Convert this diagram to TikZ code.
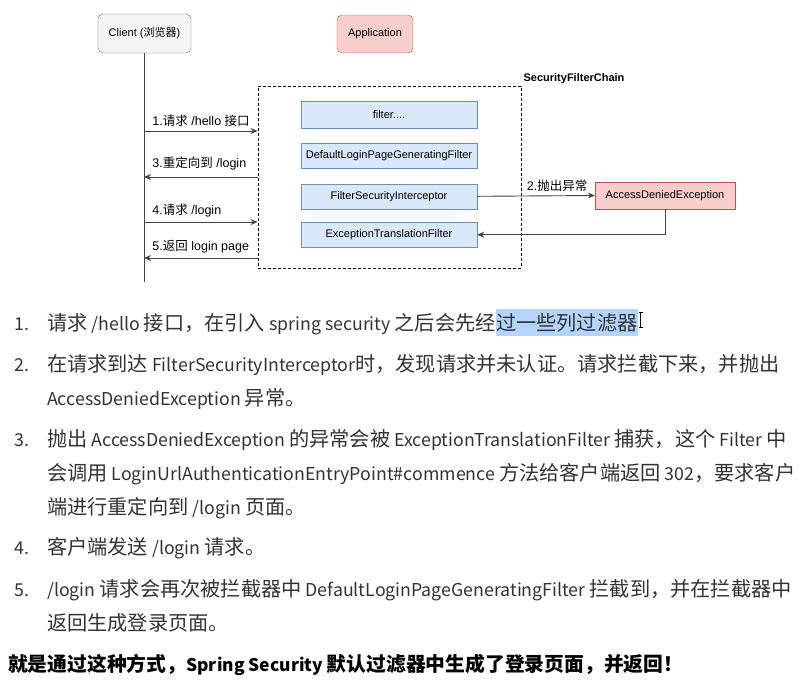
\documentclass[tikz,border=0pt]{standalone}
\usepackage{fontspec}
\setmainfont{Noto Sans CJK SC}
\newfontfamily\dgfont{Liberation Sans}
\newfontfamily\cjk{Noto Sans CJK SC}
\newfontfamily\lt{Noto Sans CJK SC}[Scale=0.879]
\newcommand{\lw}[1]{{\lt #1}}
\usetikzlibrary{arrows.meta, positioning}

\definecolor{clientfill}{HTML}{F5F5F5}
\definecolor{clientdraw}{HTML}{666666}
\definecolor{redfill}{HTML}{F8CECC}
\definecolor{reddraw}{HTML}{B85450}
\definecolor{bluefill}{HTML}{DAE8FC}
\definecolor{bluedraw}{HTML}{6C8EBF}
\definecolor{hilite}{HTML}{B3D4FC}
\definecolor{bodytext}{HTML}{333333}
\definecolor{linegray}{HTML}{444444}

\begin{document}
\begin{tikzpicture}[x=1pt, y=-1pt,
    actor/.style={draw=clientdraw, fill=clientfill, rounded corners=5pt, minimum width=93pt,
                  minimum height=39pt, font=\dgfont\fontsize{11}{13}\selectfont},
    app/.style={actor, draw=reddraw, fill=redfill, minimum width=76pt, minimum height=38pt},
    filterbox/.style={draw=bluedraw, fill=bluefill, minimum width=176pt, minimum height=25pt,
                      font=\dgfont\fontsize{11}{13}\selectfont},
    errbox/.style={filterbox, draw=reddraw, fill=redfill, minimum width=140pt, minimum height=27pt},
    arrow/.style={-{Stealth[length=7pt, width=6pt]}, line width=0.9pt, draw=linegray},
    msg/.style={font=\dgfont\fontsize{12.5}{14}\selectfont, inner sep=1pt},
    item/.style={anchor=base west, inner sep=0pt, text=bodytext, font=\fontsize{20.2}{24}\selectfont}
  ]
  \path[fill=white] (0,0) rectangle (812,689);
  \useasboundingbox (0,0) rectangle (812,689);

  % lifeline and application
  \node[actor] (client) at (144.5,33.5) {Client ({\cjk 浏览器})};
  \node[app] (app) at (375,34) {Application};
  \coordinate (lifeend) at (144,282);
  \draw[line width=0.9pt, linegray] (client.south -| lifeend) -- (lifeend);

  % filter chain
  \node[draw, dashed, dash pattern=on 3pt off 2pt, line width=0.8pt, minimum width=263pt,
        minimum height=182pt, inner sep=0pt] (chain) at (389.5,177) {};
  \node[anchor=south west, inner sep=2pt, font=\dgfont\bfseries\fontsize{11}{13}\selectfont]
    (chainlbl) at (chain.north east) {SecurityFilterChain};

  \node[filterbox, minimum height=27pt] (f0) at (389,114.5) {filter....};
  \node[filterbox, below=15pt of f0] (dlpg) {DefaultLoginPageGeneratingFilter};
  \node[filterbox, below=15pt of dlpg] (fsi) {FilterSecurityInterceptor};
  \node[filterbox, below=13pt of fsi] (etf) {ExceptionTranslationFilter};

  \node[errbox] (ade) at (665,195.5) {AccessDeniedException};

  % messages
  \coordinate (c1) at (144,131);
  \coordinate (c3) at (144,177);
  \coordinate (c4) at (144,222);
  \coordinate (c5) at (144,258);
  \draw[arrow] (c1) -- (c1 -| chain.west)
    node[msg, pos=0, anchor=south west, xshift=7pt, yshift=3pt] {1.{\cjk 请求} /hello {\cjk 接口}};
  \draw[arrow] (c3 -| chain.west) -- (c3)
    node[msg, pos=1, anchor=south west, xshift=7pt, yshift=5pt] {3.{\cjk 重定向到} /login};
  \draw[arrow] (c4) -- (c4 -| chain.west)
    node[msg, pos=0, anchor=south west, xshift=7pt, yshift=3pt] {4.{\cjk 请求} /login};
  \draw[arrow] (c5 -| chain.west) -- (c5)
    node[msg, pos=1, anchor=south west, xshift=7pt, yshift=3pt] {5.{\cjk 返回} login page};
  \draw[arrow] (fsi.east) -- (ade.west)
    node[msg, pos=1, anchor=south east, xshift=-6pt, yshift=3pt] {2.{\cjk 抛出异常}};
  \draw[arrow] (ade.south) |- (etf.east);

  % notes
  \node[item] (n1) at (14,330) {\lw{1.}};
  \node[item] (l1a) at (47,330) {请求\lw{ /hello }接口，在引入\lw{ spring security }之后会先经};
  \node[item, fill=hilite, text height=21pt, text depth=6pt] (l1b) at (l1a.base east) {过一些列过滤器};
  \draw[line width=0.8pt, black] ([xshift=3pt, yshift=-4pt]l1b.north east) -- ([xshift=3pt, yshift=9pt]l1b.south east)
    ([xshift=1pt, yshift=-4pt]l1b.north east) -- ([xshift=5pt, yshift=-4pt]l1b.north east)
    ([xshift=1pt, yshift=9pt]l1b.south east) -- ([xshift=5pt, yshift=9pt]l1b.south east);

  \node[item] (n2) at (14,371) {\lw{2.}};
  \node[item] (l2a) at (47,371) {在请求到达\lw{ FilterSecurityInterceptor}时，发现请求并未认证。请求拦截下来，并抛出};
  \node[item] (l2b) at (47,405) {\lw{AccessDeniedException }异常。};

  \node[item] (n3) at (14,446) {\lw{3.}};
  \node[item] (l3a) at (47,446) {抛出\lw{ AccessDeniedException }的异常会被\lw{ ExceptionTranslationFilter }捕获，这个\lw{ Filter }中};
  \node[item] (l3b) at (47,480) {会调用\lw{ LoginUrlAuthenticationEntryPoint\#commence }方法给客户端返回\lw{ 302}，要求客户};
  \node[item] (l3c) at (47,514) {端进行重定向到\lw{ /login }页面。};

  \node[item] (n4) at (14,554) {\lw{4.}};
  \node[item] (l4a) at (47,554) {客户端发送\lw{ /login }请求。};

  \node[item] (n5) at (14,596) {\lw{5.}};
  \node[item] (l5a) at (47,596) {\lw{/login }请求会再次被拦截器中\lw{ DefaultLoginPageGeneratingFilter }拦截到，并在拦截器中};
  \node[item] (l5b) at (47,630) {返回生成登录页面。};

  \node[item, text=black, font=\bfseries\fontsize{19.8}{24}\selectfont] (summary) at (8,671)
    {就是通过这种方式，\lw{Spring Security }默认过滤器中生成了登录页面，并返回！};
\end{tikzpicture}
\end{document}
